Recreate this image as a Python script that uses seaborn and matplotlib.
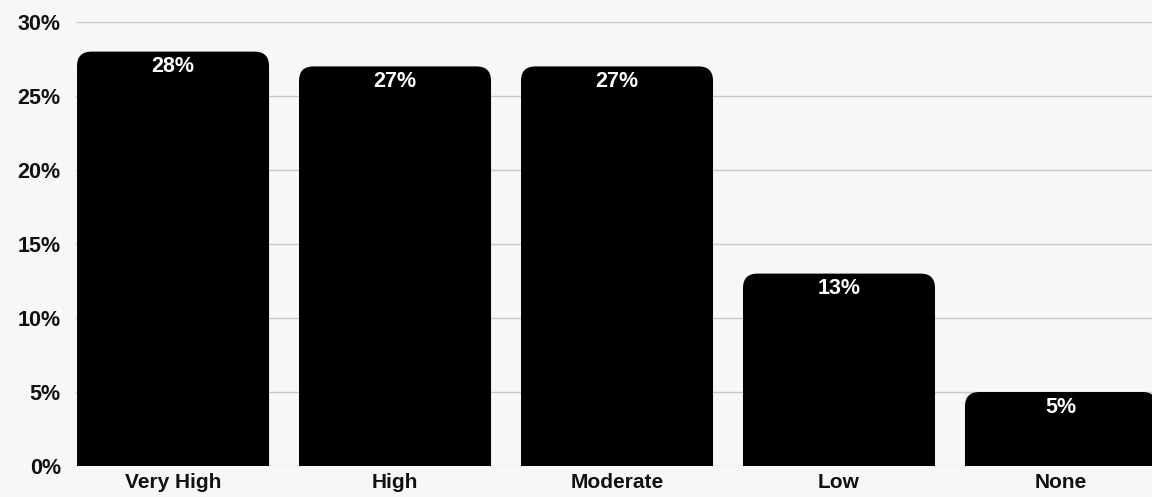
import seaborn as sns
from matplotlib import pyplot as plt
from matplotlib.patches import FancyBboxPatch
from matplotlib.ticker import PercentFormatter
import pandas as pd

categories = ["Very High", "High", "Moderate", "Low", "None"]
shares = [28, 27, 27, 13, 5]
bar_labels = ["28%", "27%", "27%", "13%", "5%"]

bg = "#f7f7f7"
sns.set_theme(style="white")
plt.rcParams["font.family"] = ["Liberation Sans", "DejaVu Sans"]
plt.rcParams["font.weight"] = "bold"

df = pd.DataFrame({"level": categories, "share": shares})

fig = plt.figure(figsize=(11.52, 4.97), dpi=100, facecolor=bg)
ax = fig.add_axes([0.066, 0.0624, 0.934, 0.8933])
ax.set_facecolor(bg)

sns.barplot(data=df, x="level", y="share", color="black", width=0.865,
            saturation=1, ax=ax, zorder=3)

# swap the flat bars for ones with rounded corners
for p, lab in zip(list(ax.patches), bar_labels):
    x, w, h = p.get_x(), p.get_width(), p.get_height()
    p.remove()
    rb = FancyBboxPatch((x, -3), w, h + 3,
                        boxstyle="round,pad=0,rounding_size=0.065",
                        mutation_aspect=15, facecolor="black",
                        edgecolor="none", zorder=3, clip_on=True)
    ax.add_patch(rb)
    ax.annotate(lab, (x + w / 2, h), xytext=(0, -3.5), textcoords="offset points",
                ha="center", va="top", color="white", fontsize=15.5,
                fontweight="bold", zorder=4)

ax.set_ylim(0, 30)
ax.set_xlim(-0.437, 4.41)
ax.set_yticks([0, 5, 10, 15, 20, 25, 30])
ax.yaxis.set_major_formatter(PercentFormatter(decimals=0))
ax.grid(axis="y", color="#c8c8c8", linewidth=1, zorder=0)
ax.set_axisbelow(True)
for s in ax.spines.values():
    s.set_visible(False)
ax.tick_params(axis="y", length=0, pad=11, labelsize=15.5, labelcolor="#111111")
ax.tick_params(axis="x", length=0, pad=5, labelsize=15, labelcolor="#111111")
for t in ax.get_xticklabels() + ax.get_yticklabels():
    t.set_fontweight("bold")
ax.set_xlabel("")
ax.set_ylabel("")

fig.savefig("out.png", dpi=100, facecolor=bg)
